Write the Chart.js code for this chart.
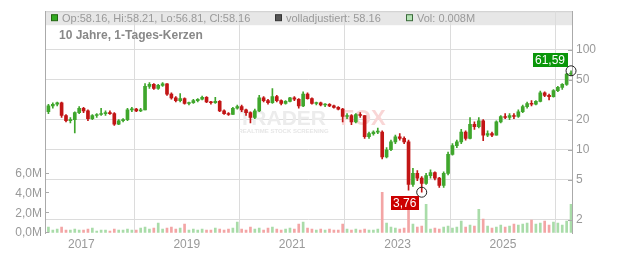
<!DOCTYPE html>
<html><head><meta charset="utf-8">
<script src="https://cdn.jsdelivr.net/npm/chart.js@4/dist/chart.umd.min.js"></script>
<style>html,body{margin:0;padding:0;background:#fff}canvas{display:block}</style>
</head><body>
<canvas id="c" width="632" height="253" style="width:632px;height:253px"></canvas>
<script>
// ---- data (monthly candles) ----
const months = [
 '2016-05','2016-06','2016-07','2016-08','2016-09','2016-10','2016-11','2016-12',
 '2017-01','2017-02','2017-03','2017-04','2017-05','2017-06','2017-07','2017-08','2017-09','2017-10','2017-11','2017-12',
 '2018-01','2018-02','2018-03','2018-04','2018-05','2018-06','2018-07','2018-08','2018-09','2018-10','2018-11','2018-12',
 '2019-01','2019-02','2019-03','2019-04','2019-05','2019-06','2019-07','2019-08','2019-09','2019-10','2019-11','2019-12',
 '2020-01','2020-02','2020-03','2020-04','2020-05','2020-06','2020-07','2020-08','2020-09','2020-10','2020-11','2020-12',
 '2021-01','2021-02','2021-03','2021-04','2021-05','2021-06','2021-07','2021-08','2021-09','2021-10','2021-11','2021-12',
 '2022-01','2022-02','2022-03','2022-04','2022-05','2022-06','2022-07','2022-08','2022-09','2022-10','2022-11','2022-12',
 '2023-01','2023-02','2023-03','2023-04','2023-05','2023-06','2023-07','2023-08','2023-09','2023-10','2023-11','2023-12',
 '2024-01','2024-02','2024-03','2024-04','2024-05','2024-06','2024-07','2024-08','2024-09','2024-10','2024-11','2024-12',
 '2025-01','2025-02','2025-03','2025-04','2025-05','2025-06','2025-07','2025-08','2025-09','2025-10','2025-11','2025-12',
 '2026-01','2026-02','2026-03','2026-04'];
const open = [
 24,27.5,28.5,29.5,22,19.5,20,23.5,
 26,24.5,20.5,22,22.5,23,23.5,23,18,19.5,20,25,
 25.5,24.5,25,43,45,41,44,45.5,36,33,31,32.5,
 29,29.5,31,32,33.5,30,29.5,30.5,24.5,23,22.5,26,
 27,25,23.5,21,24.5,33,31,29.5,34,31,29,30.5,
 33,32,27.5,36,32.5,29,29.5,28,28.5,27.5,26.5,25.5,
 21.5,22,19,22.5,22,13.5,14.5,15,15,8.5,10,12,
 13.5,13,12,4.5,5.8,5.2,4.6,5.5,5.9,5.2,4.4,5.8,
 9,11,12,15,13,18,17,19.5,14,14.5,14,19,
 21.5,21,22,21.5,24,27,29,28.5,30.5,37,35,34,
 39,42,45,57];
const high = [
 28.5,29.5,30,30,22.5,21,24,27,
 26.5,25,22.5,23,26,24.5,24.5,23.5,20,20.5,26,26.5,
 26,26,46,47,46,45,47,46,37,34,36.5,33,
 30,32,32.5,34.5,34,30.5,33.5,31,25,23.5,26.5,28,
 28,25.5,24,25.5,35,34,32,41,35,31.5,31,33.5,
 34,32.5,38,37,33,30,30,29,29,28,27,26,
 23,22.5,23,23.5,22,15,15.5,16.5,15.5,10.5,12.5,14,
 14.5,13.5,12.5,6.5,6.2,5.4,5.8,6.3,6,5.3,6,9.5,
 11.5,12.5,16,15.5,21,19,21,20,15.5,15,19.5,22,
 23,23,23,25,28,30,31,31,38.5,38,36,40,
 43,46,58,61.59];
const low = [
 23,26,27.5,21,19,18.5,14.7,23,
 23.5,19.5,20,21,22,22,22.5,17.5,17.8,19,19.5,24,
 24,24,25,41,40,40,43,35,32,30,30,28.5,
 28,29,30,31.5,29.5,28.5,29,24,22.5,22,22.5,25.5,
 24,22,18.5,20.5,24,30,28.5,29,30,28,28.5,30,
 31,26,27,32,28.5,28,27.5,27,27,26,25,19,
 20.5,17.8,18.5,21,13,13,14,14.5,8.1,8.3,9.8,11.5,
 12.5,11.5,3.95,4.3,4.9,3.76,4.5,5.2,5,4.2,4.2,5.6,
 8.8,10.5,11.5,12.5,12.8,16,16.5,12.3,13.5,13.5,14,18.5,
 20.5,20,20.5,21,23.5,26,27.5,28,30,34,31.5,33.5,
 38,40,44,55];
const close = [
 27.5,28.5,29.5,22,19.5,20,23.5,26,
 24.5,20.5,22,22.5,23,23.5,23,18,19.5,20,25,25.5,
 24.5,25,43,45,41,44,45.5,36,33,31,32.5,29,
 29.5,31,32,33.5,30,29.5,30.5,24.5,23,22.5,26,27,
 25,23.5,21,24.5,33,31,29.5,34,31,29,30.5,33,
 32,27.5,36,32.5,29,29.5,28,28.5,27.5,26.5,25.5,21.5,
 22,19,22.5,22,13.5,14.5,15,15,8.5,10,12,13.5,
 13,12,4.5,5.8,5.2,4.6,5.5,5.9,5.2,4.4,5.8,9,
 11,12,15,13,18,17,19.5,14,14.5,14,19,21.5,
 21,22,21.5,24,27,29,28.5,30.5,37,35,34,39,
 42,45,57,58.16];
// volume in millions
const volume = [
 0.6,0.3,0.4,0.6,0.3,0.3,0.4,0.3,
 0.3,0.4,0.5,0.2,0.3,0.3,0.2,0.4,0.3,0.3,0.4,0.3,
 0.3,0.5,0.6,0.4,0.5,1.0,0.4,0.5,0.6,0.4,0.5,0.9,
 0.3,0.4,0.3,0.4,0.3,0.3,0.5,0.4,0.3,0.4,0.5,1.1,
 0.4,0.3,0.6,0.4,0.5,0.3,0.5,0.6,0.4,0.3,0.4,0.5,
 0.4,0.9,1.1,0.5,0.4,0.3,0.4,0.3,0.4,0.3,0.3,0.9,
 0.4,0.3,0.4,0.3,0.4,0.3,0.3,0.4,4.1,1.0,0.6,0.5,
 0.4,0.5,3.0,0.9,0.6,0.7,2.9,0.4,0.5,0.4,0.6,0.7,
 0.5,0.6,1.2,0.6,0.8,0.7,2.4,1.4,0.7,0.5,0.6,0.8,
 0.6,0.7,0.9,0.8,0.9,1.0,1.3,0.9,1.0,1.2,0.8,1.1,
 1.0,0.8,1.2,2.9];
const priceTicks = [2,5,10,20,50,100];
const volumeTicks = [0,2,4,6];
const yearTicks = [2017,2019,2021,2023,2025];
const legendItems = [
 {text:'Op:58.16, Hi:58.21, Lo:56.81, Cl:58.16', fill:'#33aa22', stroke:'#226611'},
 {text:'volladjustiert: 58.16', fill:'#555555', stroke:'#333333'},
 {text:'Vol: 0.008M', fill:'#b5e3b5', stroke:'#3a6a3a'}];
const title = '10 Jahre, 1-Tages-Kerzen';

// ---- build ----
const t = months.map(s => { const [y,m] = s.split('-').map(Number); return y + (m - 0.5)/12; });
const up = close.map((c,i) => c >= open[i]);
const GREEN = '#3fa62c', RED = '#c21515', VGREEN = '#a9dca9', VRED = '#f3a5a5';

Chart.defaults.font.family = "'Liberation Sans', Arial, sans-serif";

const innerTicks = {
  id:'innerTicks',
  beforeDraw(c){
    const ctx=c.ctx, a=c.chartArea;
    ctx.save();
    ctx.fillStyle='#e7e7e7';
    ctx.fillRect(a.left, a.top, a.right-a.left, 14);
    ctx.strokeStyle='#cfcfcf'; ctx.lineWidth=1;
    ctx.beginPath(); ctx.moveTo(a.left, a.top+0.5); ctx.lineTo(a.right, a.top+0.5); ctx.stroke();
    ctx.restore();
  },
  beforeDatasetsDraw(c){
    const ctx=c.ctx, a=c.chartArea;
    const cx=(a.left+a.right)/2, cy=(a.top+a.bottom)/2;
    ctx.save();
    ctx.textBaseline='alphabetic';
    ctx.font="bold 21px 'Liberation Sans', Arial, sans-serif";
    ctx.fillStyle='#ececec';
    ctx.fillText('TRADER', cx-70, cy+3);
    ctx.fillStyle='#f9d6d6';
    ctx.font="bold 22px 'Liberation Sans', Arial, sans-serif";
    ctx.fillText('FOX', cx+32, cy+3);
    ctx.font="bold 6px 'Liberation Sans', Arial, sans-serif";
    ctx.fillStyle='#e6e6e6';
    ctx.fillText('REALTIME STOCK SCREENING', cx-70, cy+11);
    ctx.restore();
  },
  afterDraw(c){
    const ctx=c.ctx, a=c.chartArea, ys=c.scales.y, yv=c.scales.yv, xs=c.scales.x;
    ctx.save();
    ctx.strokeStyle='#aaa'; ctx.lineWidth=1; ctx.beginPath();
    ys.ticks.forEach(tk=>{const py=Math.round(ys.getPixelForValue(tk.value))+0.5; ctx.moveTo(a.right-4,py); ctx.lineTo(a.right,py);});
    yv.ticks.forEach(tk=>{const py=Math.round(yv.getPixelForValue(tk.value))-0.5; ctx.moveTo(a.left,py); ctx.lineTo(a.left+4,py);});
    ctx.stroke();
    // legend
    ctx.font="11px 'Liberation Sans', Arial, sans-serif";
    ctx.textBaseline='middle';
    let lx=[a.left+6, 275, 406];
    legendItems.forEach((it,i)=>{
      ctx.fillStyle=it.fill; ctx.fillRect(lx[i]+0.5, a.top+3.5, 6, 6);
      ctx.strokeStyle=it.stroke; ctx.strokeRect(lx[i]+0.5, a.top+3.5, 6, 6);
      ctx.fillStyle='#999'; ctx.fillText(it.text, lx[i]+11, a.top+7.5);
    });
    ctx.font="bold 12px 'Liberation Sans', Arial, sans-serif";
    ctx.fillStyle='#888'; ctx.textBaseline='alphabetic';
    ctx.fillText(title, a.left+14, a.top+28);
    // extreme annotations
    const iMax = high.indexOf(Math.max(...high));
    const iMin = low.indexOf(Math.min(...low));
    const mk = (i, v, col, above) => {
      const px = xs.getPixelForValue(t[i]), py = ys.getPixelForValue(v);
      ctx.strokeStyle='#222'; ctx.lineWidth=1;
      ctx.beginPath(); ctx.arc(px, py, 5, 0, Math.PI*2); ctx.stroke();
      const txt = v.toFixed(2).replace('.', ',');
      ctx.font="12px 'Liberation Sans', Arial, sans-serif";
      const w = Math.ceil(ctx.measureText(txt).width)+4, h=14;
      const bx = Math.round(px-3-w), by = above ? Math.round(py-4-h) : Math.round(py+4);
      ctx.fillStyle=col; ctx.fillRect(bx, by, w, h);
      ctx.fillStyle='#fff'; ctx.textBaseline='middle'; ctx.textAlign='left';
      ctx.fillText(txt, bx+2, by+h/2+0.5);
    };
    mk(iMax, high[iMax], '#0a960a', true);
    mk(iMin, low[iMin], '#cc0000', false);
    ctx.restore();
  }
};

new Chart(document.getElementById('c'), {
  type:'bar',
  data:{ datasets:[
    { label:'body', yAxisID:'y', order:1, grouped:false, barThickness:3, minBarLength:1,
      data: t.map((x,i)=>({x, y:[open[i], close[i]]})),
      backgroundColor: up.map(u=>u?GREEN:RED), borderWidth:0 },
    { label:'wick', yAxisID:'y', order:2, grouped:false, barThickness:1,
      data: t.map((x,i)=>({x, y:[low[i], high[i]]})),
      backgroundColor: up.map(u=>u?GREEN:RED), borderWidth:0 },
    { label:'vol', yAxisID:'yv', order:3, grouped:false, barThickness:2,
      data: t.map((x,i)=>({x, y:volume[i]})),
      backgroundColor: up.map(u=>u?VGREEN:VRED), borderWidth:0 }
  ]},
  options:{
    responsive:false, animation:false, events:[],
    layout:{padding:{top:9,left:0,right:0,bottom:0}},
    plugins:{legend:{display:false}, tooltip:{enabled:false}},
    scales:{
      x:{ type:'linear', min:2016.31, max:2026.31, offset:false,
          grid:{color:'#dcdcdc', drawTicks:false}, border:{display:false},
          ticks:{padding:4, color:'#999', font:{size:12}, autoSkip:false, maxRotation:0, callback:v=>String(v)},
          afterBuildTicks:s=>{ s.ticks = yearTicks.map(v=>({value:v})); },
          afterFit:s=>{ s.height = 20; } },
      y:{ type:'logarithmic', position:'right', min:1.47, max:243,
          grid:{color:'#dcdcdc', drawTicks:false}, border:{display:true, color:'#aaa'},
          ticks:{padding:4, color:'#999', font:{size:12}, callback:v=>String(v)},
          afterBuildTicks:s=>{ s.ticks = priceTicks.map(v=>({value:v})); },
          afterFit:s=>{ s.width = 60; } },
      yv:{ type:'linear', position:'left', min:0, max:22.4,
          grid:{drawOnChartArea:false, drawTicks:false}, border:{display:true, color:'#aaa'},
          ticks:{padding:3, color:'#999', font:{size:12}, callback:v=>v.toFixed(1).replace('.', ',')+'M'},
          afterBuildTicks:s=>{ s.ticks = volumeTicks.map(v=>({value:v})); },
          afterFit:s=>{ s.width = 45; } }
    }
  },
  plugins:[innerTicks]
});
</script>
</body></html>
